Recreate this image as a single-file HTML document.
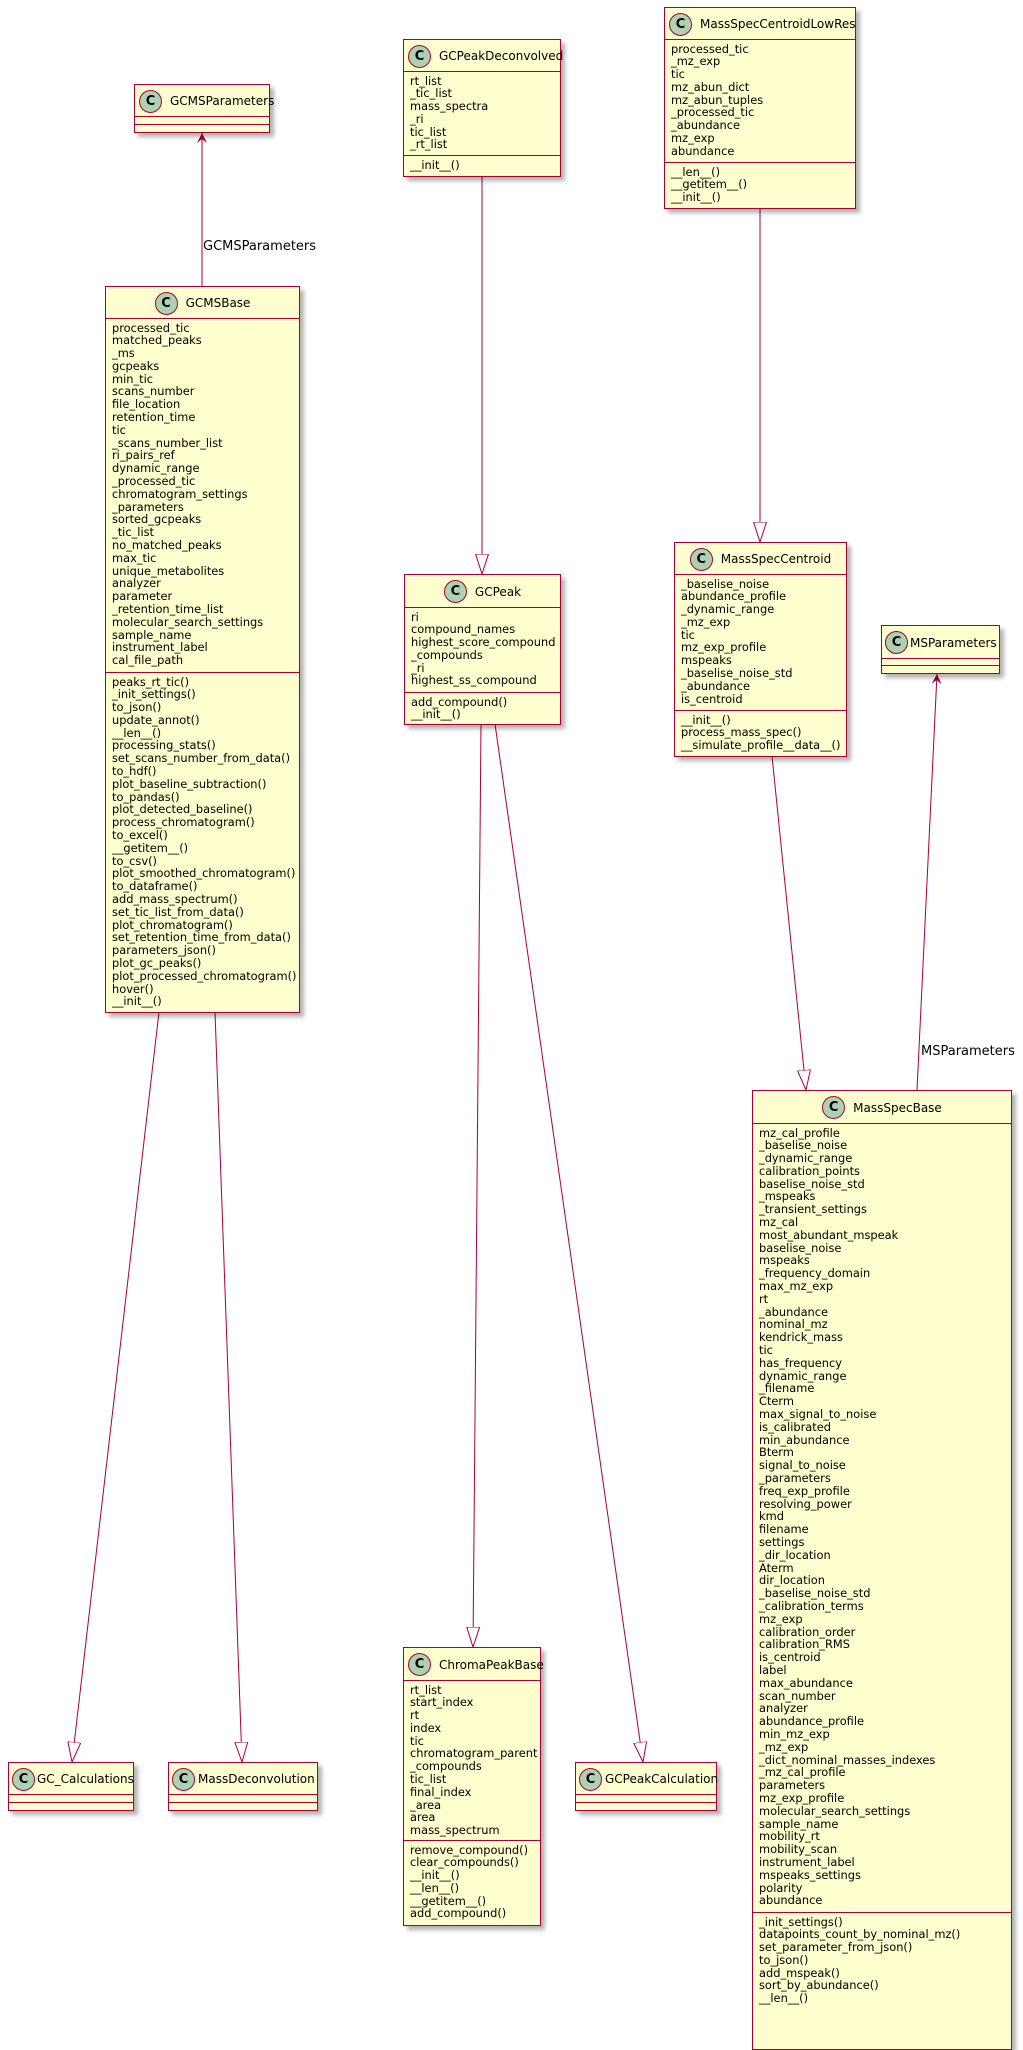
<!DOCTYPE html>
<html><head><meta charset="utf-8">
<style>
html,body{margin:0;padding:0;background:#fff;}
body{width:1023px;height:2000px;position:relative;overflow:hidden;font-family:"DejaVu Sans","Liberation Sans",sans-serif;color:#000;}
svg.lines{position:absolute;left:0;top:0;}
.box{position:absolute;background:#FEFECE;border:1.5px solid #A80036;box-sizing:border-box;box-shadow:4px 4px 4px rgba(0,0,0,0.3);}
.t{position:absolute;left:0;right:0;top:0;display:flex;align-items:center;justify-content:center;font-size:12px;white-space:nowrap;}
.c{width:21px;height:21px;border-radius:50%;background:#ADD1B2;border:1px solid #A80036;display:flex;align-items:center;justify-content:center;font-weight:bold;font-size:13px;margin-right:8px;flex:none;}
.s{position:absolute;left:0;right:0;border-top:1.5px solid #A80036;box-sizing:border-box;padding:2.5px 0 0 6px;font-size:11.4px;line-height:12.8px;white-space:pre;}
.lbl{position:absolute;font-size:13px;white-space:nowrap;}
</style></head><body>
<svg class="lines" width="1023" height="2000">
<defs>
<marker id="tri" markerUnits="userSpaceOnUse" markerWidth="22" markerHeight="15" refX="20" refY="7" orient="auto"><path d="M0,0.5 L20,7 L0,13.5 z" fill="#fff" stroke="#A80036" stroke-width="1"/></marker>
<marker id="opn" markerUnits="userSpaceOnUse" markerWidth="12" markerHeight="10" refX="10" refY="5" orient="auto"><path d="M0,0 L10,5 L0,10 L4,5 z" fill="#A80036"/></marker>
</defs>
<g stroke="#A80036" stroke-width="1" fill="none">
<line x1="202" y1="286" x2="202" y2="133" marker-end="url(#opn)"/>
<line x1="482" y1="176" x2="482" y2="574" marker-end="url(#tri)"/>
<line x1="760" y1="208" x2="760" y2="542" marker-end="url(#tri)"/>
<line x1="772" y1="756" x2="806" y2="1090" marker-end="url(#tri)"/>
<line x1="917" y1="1090" x2="937" y2="674" marker-end="url(#opn)"/>
<line x1="481" y1="724" x2="473" y2="1647" marker-end="url(#tri)"/>
<line x1="495" y1="724" x2="643" y2="1762" marker-end="url(#tri)"/>
<line x1="159" y1="1012" x2="72" y2="1762" marker-end="url(#tri)"/>
<line x1="215" y1="1012" x2="242" y2="1762" marker-end="url(#tri)"/>
</g>
</svg>
<div class="lbl" style="left:203px;top:239px;">GCMSParameters</div>
<div class="lbl" style="left:921px;top:1044px;">MSParameters</div>

<div class="box" style="left:134px;top:84px;width:136px;height:49px;">
<div class="t" style="height:32px;justify-content:flex-start;padding-left:4px;"><span class="c">C</span>GCMSParameters</div>
<div class="s" style="top:31px;height:9px;"></div><div class="s" style="top:39px;height:9px;"></div></div>

<div class="box" style="left:105px;top:286px;width:195px;height:727px;">
<div class="t" style="height:32px;"><span class="c">C</span>GCMSBase</div>
<div class="s" style="top:31px;height:356px;">processed_tic
matched_peaks
_ms
gcpeaks
min_tic
scans_number
file_location
retention_time
tic
_scans_number_list
ri_pairs_ref
dynamic_range
_processed_tic
chromatogram_settings
_parameters
sorted_gcpeaks
_tic_list
no_matched_peaks
max_tic
unique_metabolites
analyzer
parameter
_retention_time_list
molecular_search_settings
sample_name
instrument_label
cal_file_path</div>
<div class="s" style="top:385px;height:340px;">peaks_rt_tic()
_init_settings()
to_json()
update_annot()
__len__()
processing_stats()
set_scans_number_from_data()
to_hdf()
plot_baseline_subtraction()
to_pandas()
plot_detected_baseline()
process_chromatogram()
to_excel()
__getitem__()
to_csv()
plot_smoothed_chromatogram()
to_dataframe()
add_mass_spectrum()
set_tic_list_from_data()
plot_chromatogram()
set_retention_time_from_data()
parameters_json()
plot_gc_peaks()
plot_processed_chromatogram()
hover()
__init__()</div></div>

<div class="box" style="left:403px;top:39px;width:158px;height:138px;">
<div class="t" style="height:32px;justify-content:flex-start;padding-left:4px;"><span class="c">C</span>GCPeakDeconvolved</div>
<div class="s" style="top:31px;height:86px;">rt_list
_tic_list
mass_spectra
_ri
tic_list
_rt_list</div>
<div class="s" style="top:115px;height:21px;">__init__()</div></div>

<div class="box" style="left:664px;top:7px;width:192px;height:202px;">
<div class="t" style="height:32px;justify-content:flex-start;padding-left:4px;"><span class="c">C</span>MassSpecCentroidLowRes</div>
<div class="s" style="top:31px;height:124px;">processed_tic
_mz_exp
tic
mz_abun_dict
mz_abun_tuples
_processed_tic
_abundance
mz_exp
abundance</div>
<div class="s" style="top:154px;height:46px;">__len__()
__getitem__()
__init__()</div></div>

<div class="box" style="left:404px;top:574px;width:157px;height:151px;">
<div class="t" style="height:33px;"><span class="c">C</span>GCPeak</div>
<div class="s" style="top:32px;height:87px;">ri
compound_names
highest_score_compound
_compounds
_ri
highest_ss_compound</div>
<div class="s" style="top:117px;height:32px;">add_compound()
__init__()</div></div>

<div class="box" style="left:674px;top:542px;width:173px;height:215px;">
<div class="t" style="height:32px;"><span class="c">C</span>MassSpecCentroid</div>
<div class="s" style="top:31px;height:138px;">_baselise_noise
abundance_profile
_dynamic_range
_mz_exp
tic
mz_exp_profile
mspeaks
_baselise_noise_std
_abundance
is_centroid</div>
<div class="s" style="top:167px;height:46px;">__init__()
process_mass_spec()
__simulate_profile__data__()</div></div>

<div class="box" style="left:881px;top:625px;width:119px;height:49px;">
<div class="t" style="height:33px;justify-content:flex-start;padding-left:3px;"><span class="c" style="margin-right:2px;">C</span>MSParameters</div>
<div class="s" style="top:32px;height:8px;"></div><div class="s" style="top:39px;height:9px;"></div></div>

<div class="box" style="left:752px;top:1090px;width:260px;height:960px;">
<div class="t" style="height:33px;"><span class="c">C</span>MassSpecBase</div>
<div class="s" style="top:32px;height:791px;">mz_cal_profile
_baselise_noise
_dynamic_range
calibration_points
baselise_noise_std
_mspeaks
_transient_settings
mz_cal
most_abundant_mspeak
baselise_noise
mspeaks
_frequency_domain
max_mz_exp
rt
_abundance
nominal_mz
kendrick_mass
tic
has_frequency
dynamic_range
_filename
Cterm
max_signal_to_noise
is_calibrated
min_abundance
Bterm
signal_to_noise
_parameters
freq_exp_profile
resolving_power
kmd
filename
settings
_dir_location
Aterm
dir_location
_baselise_noise_std
_calibration_terms
mz_exp
calibration_order
calibration_RMS
is_centroid
label
max_abundance
scan_number
analyzer
abundance_profile
min_mz_exp
_mz_exp
_dict_nominal_masses_indexes
_mz_cal_profile
parameters
mz_exp_profile
molecular_search_settings
sample_name
mobility_rt
mobility_scan
instrument_label
mspeaks_settings
polarity
abundance</div>
<div class="s" style="top:821px;height:138px;">_init_settings()
datapoints_count_by_nominal_mz()
set_parameter_from_json()
to_json()
add_mspeak()
sort_by_abundance()
__len__()</div></div>

<div class="box" style="left:403px;top:1647px;width:138px;height:279px;">
<div class="t" style="height:33px;justify-content:flex-start;padding-left:4px;"><span class="c">C</span>ChromaPeakBase</div>
<div class="s" style="top:32px;height:162px;">rt_list
start_index
rt
index
tic
chromatogram_parent
_compounds
tic_list
final_index
_area
area
mass_spectrum</div>
<div class="s" style="top:192px;height:85px;">remove_compound()
clear_compounds()
__init__()
__len__()
__getitem__()
add_compound()</div></div>

<div class="box" style="left:8px;top:1762px;width:126px;height:49px;">
<div class="t" style="height:32px;justify-content:flex-start;padding-left:3px;"><span class="c" style="margin-right:2px;">C</span>GC_Calculations</div>
<div class="s" style="top:31px;height:9px;"></div><div class="s" style="top:39px;height:9px;"></div></div>

<div class="box" style="left:168px;top:1762px;width:150px;height:49px;">
<div class="t" style="height:32px;justify-content:flex-start;padding-left:3px;"><span class="c" style="margin-right:3px;">C</span>MassDeconvolution</div>
<div class="s" style="top:31px;height:9px;"></div><div class="s" style="top:39px;height:9px;"></div></div>

<div class="box" style="left:575px;top:1762px;width:142px;height:49px;">
<div class="t" style="height:32px;justify-content:flex-start;padding-left:3px;"><span class="c" style="margin-right:3px;">C</span>GCPeakCalculation</div>
<div class="s" style="top:31px;height:9px;"></div><div class="s" style="top:39px;height:9px;"></div></div>
</body></html>
